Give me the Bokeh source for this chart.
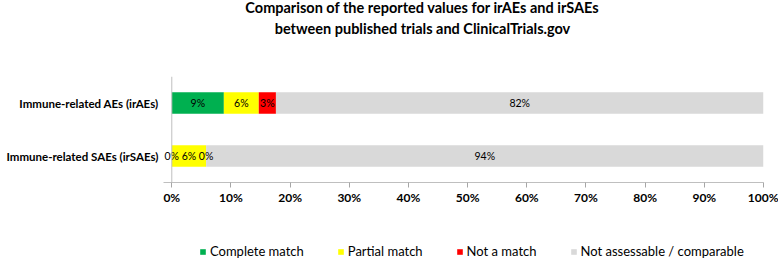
from bokeh.plotting import figure
from bokeh.layouts import column
from bokeh.models import (ColumnDataSource, FactorRange, Range1d, Legend, LegendItem,
                          Label, FixedTicker, Span)
from bokeh.core.properties import value
from bokeh.embed import file_html
from bokeh.resources import INLINE
import numpy as np

categories = ["Immune-related AEs (irAEs)", "Immune-related SAEs (irSAEs)"]
complete = [8.8, 0.0]
partial = [5.9, 5.8]
not_match = [2.9, 0.0]
not_assess = [82.4, 94.2]
series_names = ["Complete match", "Partial match", "Not a match", "Not assessable / comparable"]
series_keys = ["complete", "partial", "not_match", "not_assess"]
colors = ["#00B050", "#FFFF00", "#FF0000", "#D9D9D9"]
x_ticks = [0, 10, 20, 30, 40, 50, 60, 70, 80, 90, 100]
title_lines = ["Comparison of the reported values for irAEs and irSAEs",
               "between published trials and ClinicalTrials.gov"]

FONT = "Lato"
W = 778


def bare(fig):
    fig.axis.visible = False
    fig.xgrid.grid_line_color = None
    fig.ygrid.grid_line_color = None
    fig.outline_line_color = None


# ---------- title strip ----------
tf = figure(width=W, height=44, output_backend="svg", toolbar_location=None,
            x_range=Range1d(0, 1), y_range=Range1d(0, 1), min_border=0)
bare(tf)
for i, line in enumerate(title_lines):
    tf.add_layout(Label(x=259, y=37.5 - i * 21.5, x_units="screen", y_units="screen",
                        text=line, text_align="center", text_baseline="middle",
                        text_font=FONT, text_font_style="bold",
                        text_font_size="14.5px", text_color="#000000"))

# ---------- main chart ----------
src = ColumnDataSource(dict(cat=categories, complete=complete, partial=partial,
                            not_match=not_match, not_assess=not_assess))

p = figure(width=W, height=185, output_backend="svg", toolbar_location=None,
           y_range=FactorRange(factors=categories[::-1]),
           x_range=Range1d(-1.4, 100),
           min_border_left=163, min_border_right=15,
           min_border_top=32, min_border_bottom=47)

renderers = p.hbar_stack(series_keys, y="cat", height=0.41, color=colors,
                         line_color=None, source=src)

vals = np.array([complete, partial, not_match, not_assess])
cum = np.cumsum(vals, axis=0)
centers = cum - vals / 2
for i in range(len(series_keys)):
    lbls = [f"{v:.0f}%" for v in vals[i]]
    s = ColumnDataSource(dict(x=centers[i], y=categories, t=lbls))
    p.text(x="x", y="y", text="t", source=s, text_align="center",
           text_baseline="middle", text_font=value(FONT), text_font_size="10.5px",
           text_color="#000000")

p.add_layout(Span(location=0, dimension="height", line_color="#BFBFBF", line_width=1))

p.xaxis.ticker = FixedTicker(ticks=x_ticks)
p.xaxis.major_label_overrides = {t: f"{t}%" for t in x_ticks}
p.xaxis.minor_tick_line_color = None
p.xaxis.major_tick_out = 5
p.xaxis.major_tick_in = 0
p.xaxis.major_tick_line_color = "#A6A6A6"
p.xaxis.axis_line_color = "#BFBFBF"
p.xaxis.major_label_standoff = 2
p.xaxis.major_label_text_font = FONT
p.xaxis.major_label_text_font_style = "bold"
p.xaxis.major_label_text_font_size = "12px"
p.xaxis.major_label_text_color = "#000000"

p.yaxis.major_tick_line_color = None
p.yaxis.minor_tick_line_color = None
p.yaxis.axis_line_color = None
p.yaxis.major_tick_out = 0
p.yaxis.major_label_standoff = 5
p.yaxis.major_label_text_font = FONT
p.yaxis.major_label_text_font_style = "bold"
p.yaxis.major_label_text_font_size = "11.5px"
p.yaxis.major_label_text_color = "#000000"

p.xgrid.grid_line_color = None
p.ygrid.grid_line_color = None
p.outline_line_color = None

# ---------- legend strip ----------
lg = figure(width=W, height=30, output_backend="svg", toolbar_location=None,
            x_range=Range1d(0, 1), y_range=Range1d(0, 1), min_border=0)
bare(lg)
sw_src = ColumnDataSource(dict(x=list(range(len(colors))), c=colors))
sw = lg.vbar(x="x", top=0, width=0.5, fill_color="c", line_color=None,
             source=sw_src, visible=False)
items = [LegendItem(label=n, renderers=[sw], index=i) for i, n in enumerate(series_names)]
legend = Legend(items=items, orientation="horizontal", location=(36, 0),
                glyph_width=7, glyph_height=7, label_standoff=4, spacing=33,
                padding=0, margin=0, border_line_color=None,
                background_fill_alpha=0, label_text_color="#000000",
                label_text_font=FONT, label_text_font_size="13px")
lg.add_layout(legend, "center")

layout = column(tf, p, lg, spacing=0)
open("out.html", "w").write(file_html(layout, INLINE))
